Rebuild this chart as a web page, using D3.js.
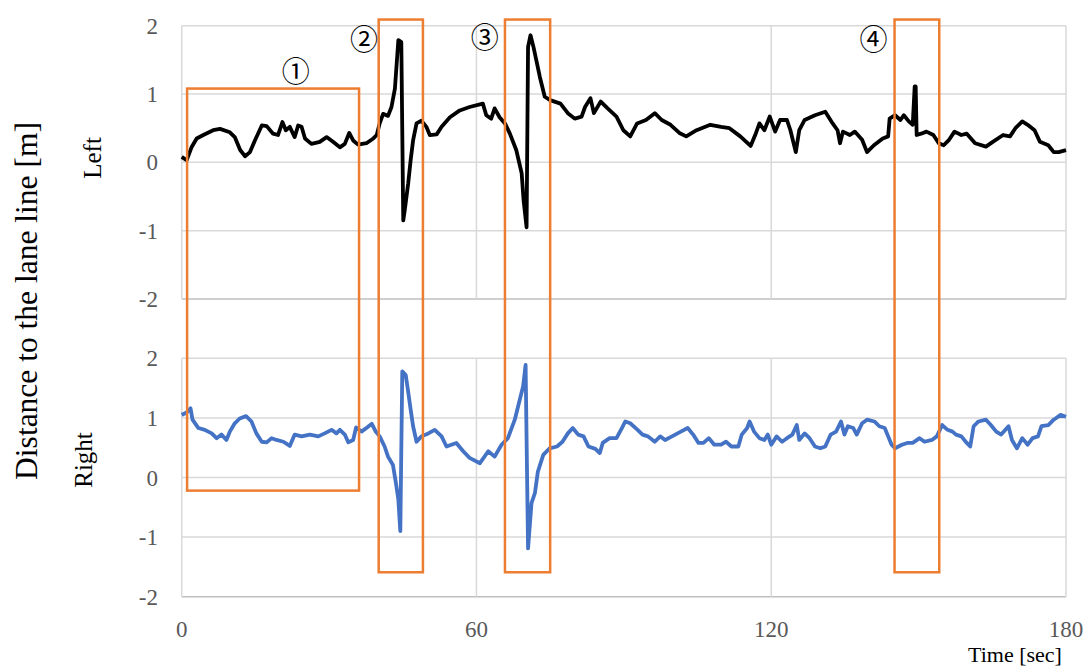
<!DOCTYPE html>
<html>
<head>
<meta charset="utf-8">
<script src="https://cdn.jsdelivr.net/npm/d3@7"></script>
<style>
  body { margin: 0; background: #fff; }
  svg text { font-family: "Liberation Serif", "DejaVu Serif", serif; }
</style>
</head>
<body>
<div id="graph"></div>
<script>
// time [sec] and distance [m]
var leftTime = [0, 1, 2, 3.05, 4.4, 6.4, 7.8, 9.8, 10.8, 11.9, 12.9, 13.9, 14.9, 16.3, 17.3, 18.6, 19.6, 20.5, 21.2, 22, 23, 23.7, 24.4, 25.1, 26.4, 28.1, 29.5, 30.8, 32.2, 33.2, 34.1, 34.9, 35.9, 37.6, 39, 39.7, 40.3, 41, 42, 42.7, 43.4, 44.1, 44.7, 45.1, 45.4, 46.1, 46.6, 47.1, 47.8, 48.8, 49.8, 50.5, 51.9, 52.9, 54.6, 56.6, 58.6, 61.3, 62, 63, 63.7, 64.7, 65.8, 66.8, 68.1, 69.2, 69.6, 70.2, 70.5, 71, 71.6, 72.2, 72.9, 73.9, 75, 77.1, 78.6, 80, 81.4, 82.1, 83.2, 83.9, 85.3, 86.7, 88.5, 89.9, 91.3, 92.7, 94.5, 96.3, 97.7, 99.5, 101.3, 102.7, 104.8, 107.6, 109.8, 111.5, 113.7, 115.8, 116.9, 117.6, 118.6, 119.7, 120.8, 121.8, 123.2, 123.9, 125, 125.7, 126.8, 128.9, 131, 132.5, 133.5, 134, 134.6, 136, 137, 138.5, 139.5, 140.9, 142.7, 143.8, 144.1, 145.2, 146.3, 147, 148, 148.8, 149.2, 149.4, 149.6, 150.5, 151.6, 153, 154.1, 155.1, 156.2, 157.3, 158.7, 159.8, 161.5, 163.7, 165.1, 167.2, 168.6, 169.7, 171.1, 172.2, 173.6, 174.7, 176.4, 177.5, 178.5, 180];
var leftValue = [0.08, 0.03, 0.22, 0.35, 0.40, 0.47, 0.49, 0.44, 0.37, 0.18, 0.09, 0.15, 0.32, 0.54, 0.53, 0.42, 0.40, 0.59, 0.47, 0.52, 0.37, 0.54, 0.52, 0.35, 0.27, 0.30, 0.37, 0.30, 0.22, 0.27, 0.43, 0.32, 0.26, 0.28, 0.35, 0.40, 0.57, 0.71, 0.68, 0.81, 1.08, 1.79, 1.76, -0.85, -0.70, -0.31, 0.03, 0.32, 0.57, 0.61, 0.52, 0.40, 0.41, 0.52, 0.66, 0.76, 0.81, 0.86, 0.69, 0.64, 0.79, 0.66, 0.57, 0.42, 0.18, -0.16, -0.56, -0.95, 1.69, 1.86, 1.69, 1.49, 1.25, 0.96, 0.91, 0.86, 0.72, 0.64, 0.67, 0.81, 0.94, 0.72, 0.89, 0.79, 0.67, 0.47, 0.38, 0.57, 0.62, 0.72, 0.62, 0.55, 0.43, 0.38, 0.47, 0.55, 0.52, 0.50, 0.38, 0.24, 0.43, 0.57, 0.47, 0.67, 0.45, 0.62, 0.62, 0.47, 0.15, 0.47, 0.62, 0.69, 0.74, 0.57, 0.47, 0.28, 0.45, 0.40, 0.45, 0.33, 0.15, 0.25, 0.35, 0.38, 0.64, 0.69, 0.62, 0.69, 0.60, 0.55, 1.11, 1.11, 0.40, 0.42, 0.45, 0.40, 0.28, 0.25, 0.33, 0.45, 0.40, 0.42, 0.28, 0.23, 0.30, 0.40, 0.38, 0.50, 0.60, 0.55, 0.47, 0.30, 0.25, 0.15, 0.15, 0.18];

var rightTime = [0, 1, 1.8, 2.2, 3.4, 4.7, 6.1, 7.1, 8.1, 9.1, 9.8, 10.8, 11.8, 13.1, 14.2, 15.2, 16.3, 17.3, 18.3, 19.3, 20.7, 22, 23, 24.4, 26.1, 27.8, 29.1, 30.5, 31.5, 32.2, 33.2, 33.9, 34.9, 35.5, 36.6, 37.6, 38.7, 39.5, 40.3, 41.3, 42, 43, 43.6, 44.1, 44.5, 44.9, 45.6, 46.1, 46.6, 47.1, 47.8, 48.8, 50.2, 51.5, 52.9, 53.9, 55.9, 57.3, 58.6, 60.7, 62.4, 63.7, 65.1, 66.4, 67.8, 68.8, 69.5, 70, 70.5, 71.2, 71.9, 72.5, 73.6, 74.9, 76.4, 77.5, 78.6, 79.6, 80.7, 81.8, 82.8, 84.2, 85.1, 85.7, 87.1, 88.5, 89.6, 90.3, 91.3, 92.8, 93.8, 94.9, 96.3, 97.4, 98.4, 99.8, 101.6, 103, 104.1, 105.2, 106.2, 107.3, 108.4, 109.8, 110.8, 111.9, 113.3, 114, 115.1, 115.6, 116.5, 117.6, 118.6, 119.3, 120, 121.1, 122.2, 123.2, 124.3, 125.2, 125.7, 126.8, 127.8, 128.9, 130, 131, 132.1, 133.2, 134.2, 134.9, 135.6, 136.7, 137.4, 138.5, 139.5, 141, 142, 143.1, 143.8, 144.5, 145.2, 146.6, 147.7, 148.8, 150.2, 151.2, 152.7, 153.7, 154.8, 155.9, 156.9, 157.6, 158.7, 159.8, 160.5, 161.2, 162.2, 163.7, 164.7, 165.8, 166.8, 168.3, 169, 170, 171.1, 172.2, 173.2, 174.3, 175, 176.4, 177.5, 178.9, 180];
var rightValue = [1.05, 1.09, 1.16, 0.97, 0.83, 0.80, 0.74, 0.66, 0.72, 0.63, 0.77, 0.91, 0.99, 1.03, 0.94, 0.74, 0.60, 0.59, 0.66, 0.63, 0.60, 0.53, 0.72, 0.69, 0.72, 0.69, 0.74, 0.80, 0.74, 0.80, 0.72, 0.59, 0.63, 0.84, 0.77, 0.83, 0.90, 0.77, 0.69, 0.52, 0.35, 0.21, -0.09, -0.37, -0.90, 1.78, 1.72, 1.44, 1.14, 0.86, 0.60, 0.69, 0.74, 0.80, 0.69, 0.52, 0.58, 0.44, 0.33, 0.24, 0.44, 0.35, 0.55, 0.66, 0.97, 1.30, 1.53, 1.89, -1.19, -0.43, -0.26, 0.10, 0.38, 0.49, 0.52, 0.60, 0.74, 0.83, 0.72, 0.69, 0.52, 0.48, 0.41, 0.58, 0.66, 0.66, 0.83, 0.94, 0.91, 0.80, 0.72, 0.69, 0.60, 0.69, 0.63, 0.69, 0.77, 0.83, 0.72, 0.58, 0.58, 0.66, 0.55, 0.55, 0.60, 0.52, 0.52, 0.72, 0.83, 0.94, 0.77, 0.66, 0.63, 0.72, 0.55, 0.69, 0.60, 0.66, 0.72, 0.88, 0.63, 0.74, 0.66, 0.52, 0.49, 0.52, 0.72, 0.77, 0.94, 0.72, 0.86, 0.83, 0.72, 0.91, 0.97, 0.94, 0.86, 0.83, 0.69, 0.55, 0.49, 0.55, 0.58, 0.58, 0.66, 0.60, 0.63, 0.69, 0.88, 0.80, 0.77, 0.72, 0.69, 0.58, 0.52, 0.86, 0.94, 0.97, 0.88, 0.77, 0.72, 0.86, 0.63, 0.49, 0.66, 0.55, 0.66, 0.69, 0.86, 0.88, 0.97, 1.05, 1.02];

var xTicks = [0, 60, 120, 180];
var yTicks = [2, 1, 0, -1, -2];

// highlighted sections: start/end time, top in the Left panel, bottom in the Right panel
var boxLabels = ["①", "②", "③", "④"];
var boxStart = [1.1, 40.1, 65.8, 145.1];
var boxEnd = [36.1, 49.1, 75.0, 154.2];
var boxTop = [1.08, 2.09, 2.09, 2.09];
var boxBottom = [-0.22, -1.59, -1.59, -1.59];
var labelTime = [23.2, 37.1, 61.7, 140.8];
var labelValue = [1.32, 1.79, 1.82, 1.79];

var width = 1087, height = 668;

var svg = d3.select("#graph")
  .append("svg")
  .attr("width", width)
  .attr("height", height);

var x = d3.scaleLinear().domain([0, 180]).range([181.7, 1066]);
var yLeft = d3.scaleLinear().domain([-2, 2]).range([299, 25.7]);
var yRight = d3.scaleLinear().domain([-2, 2]).range([596.7, 358.3]);

var grid = "#d9d9d9", tickColor = "#595959";

// gridlines and tick labels for each panel
function drawPanel(y, showX) {
  var g = svg.append("g");
  g.selectAll("line.h")
    .data(yTicks)
    .enter().append("line")
      .attr("x1", x(0)).attr("x2", x(180))
      .attr("y1", d => y(d)).attr("y2", d => y(d))
      .attr("stroke", d => d == -2 ? "#bfbfbf" : grid)
      .attr("stroke-width", 1.5);
  g.selectAll("line.v")
    .data(xTicks)
    .enter().append("line")
      .attr("x1", d => x(d)).attr("x2", d => x(d))
      .attr("y1", y(2)).attr("y2", y(-2))
      .attr("stroke", grid)
      .attr("stroke-width", 1.5);
  g.selectAll("text.y")
    .data(yTicks)
    .enter().append("text")
      .attr("x", 158)
      .attr("y", d => y(d))
      .attr("dy", "0.35em")
      .attr("text-anchor", "end")
      .attr("font-size", 23)
      .attr("fill", tickColor)
      .text(d => d);
  if (showX) {
    g.selectAll("text.x")
      .data(xTicks)
      .enter().append("text")
        .attr("x", d => x(d))
        .attr("y", 637)
        .attr("text-anchor", "middle")
        .attr("font-size", 23)
        .attr("fill", tickColor)
        .text(d => d);
  }
}
drawPanel(yLeft, false);
drawPanel(yRight, true);

// lines
var leftLine = d3.line()
  .x((d, i) => x(leftTime[i]))
  .y(d => yLeft(d));
var rightLine = d3.line()
  .x((d, i) => x(rightTime[i]))
  .y(d => yRight(d));

svg.append("path")
  .attr("d", leftLine(leftValue))
  .attr("fill", "none")
  .attr("stroke", "#000")
  .attr("stroke-width", 3.8)
  .attr("stroke-linejoin", "round");

svg.append("path")
  .attr("d", rightLine(rightValue))
  .attr("fill", "none")
  .attr("stroke", "#4472c4")
  .attr("stroke-width", 3.8)
  .attr("stroke-linejoin", "round");

// orange boxes
svg.selectAll("rect.box")
  .data(boxStart)
  .enter().append("rect")
    .attr("x", (d, i) => x(d))
    .attr("y", (d, i) => yLeft(boxTop[i]))
    .attr("width", (d, i) => x(boxEnd[i]) - x(d))
    .attr("height", (d, i) => yRight(boxBottom[i]) - yLeft(boxTop[i]))
    .attr("fill", "none")
    .attr("stroke", "#ed7d31")
    .attr("stroke-width", 2.5);

svg.selectAll("text.lbl")
  .data(boxLabels)
  .enter().append("text")
    .attr("x", (d, i) => x(labelTime[i]))
    .attr("y", (d, i) => yLeft(labelValue[i]))
    .attr("dy", "0.36em")
    .attr("text-anchor", "middle")
    .attr("font-size", 28)
    .style("font-family", "'Noto Sans CJK JP', 'DejaVu Sans', serif")
    .attr("fill", "#000")
    .text(d => d);

// axis titles
svg.append("text")
  .attr("transform", "translate(37,301) rotate(-90)")
  .attr("text-anchor", "middle")
  .attr("font-size", 31.5)
  .attr("fill", "#000")
  .text("Distance to the lane line [m]");

svg.append("text")
  .attr("transform", "translate(101,158) rotate(-90)")
  .attr("text-anchor", "middle")
  .attr("font-size", 25)
  .attr("fill", "#000")
  .text("Left");

svg.append("text")
  .attr("transform", "translate(92,460) rotate(-90)")
  .attr("text-anchor", "middle")
  .attr("font-size", 25)
  .attr("fill", "#000")
  .text("Right");

svg.append("text")
  .attr("x", 1015)
  .attr("y", 662)
  .attr("text-anchor", "middle")
  .attr("font-size", 22)
  .attr("fill", "#000")
  .text("Time [sec]");
</script>
</body>
</html>
